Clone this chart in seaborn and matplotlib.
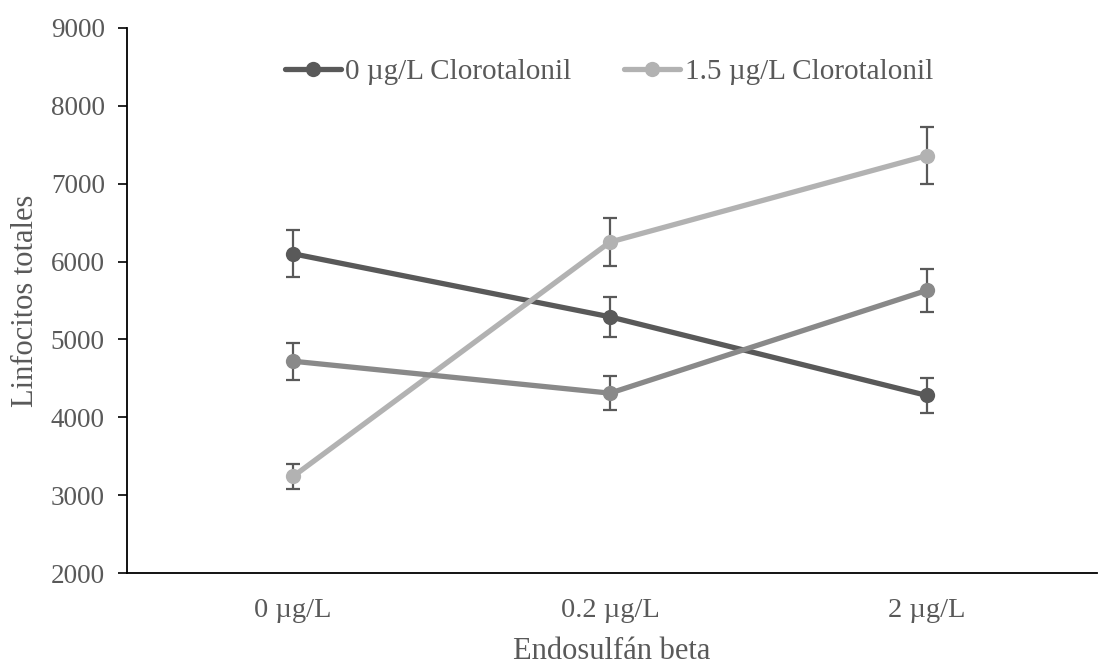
import numpy as np
import pandas as pd
import matplotlib
matplotlib.use("Agg")
import matplotlib.pyplot as plt
import seaborn as sns
from matplotlib.lines import Line2D

categories = ["0 µg/L", "0.2 µg/L", "2 µg/L"]
series_names = ["0 µg/L Clorotalonil", "1.5 µg/L Clorotalonil", "3 µg/L Clorotalonil"]
vals_0 = [6100, 5290, 4280]
err_0 = [300, 260, 220]
vals_15 = [3240, 6250, 7360]
err_15 = [160, 310, 365]
vals_3 = [4720, 4310, 5630]
err_3 = [235, 215, 280]
colors = ["#595959", "#b2b2b2", "#898989"]
in_legend = [True, True, False]

sns.set_theme(style="white")
plt.rcParams['font.family'] = ['Liberation Serif', 'DejaVu Serif']

txt = "#595959"
fig = plt.figure(figsize=(11.09, 6.65), dpi=100)
ax = fig.add_axes([0.1145, 0.1383, 0.8745, 0.8197])

rows = []
for name, vals in zip(series_names, [vals_0, vals_15, vals_3]):
    for i, v in enumerate(vals):
        rows.append({"x": i, "y": v, "serie": name})
df = pd.DataFrame(rows)

sns.lineplot(data=df, x="x", y="y", hue="serie", palette=colors, hue_order=series_names,
             marker="o", markersize=11, markeredgewidth=0, linewidth=3.8, ax=ax, legend=False,
             zorder=3)

for vals, errs in zip([vals_0, vals_15, vals_3], [err_0, err_15, err_3]):
    ax.errorbar(range(len(vals)), vals, yerr=errs, fmt="none", ecolor="#595959",
                elinewidth=1.6, capsize=5, capthick=1.6, zorder=2)

ax.set_xlim(-0.524, 2.536)
ax.set_ylim(2000, 9000)
ax.set_yticks(range(2000, 9001, 1000))
ax.set_xticks(range(len(categories)))
ax.set_xticklabels(categories)
ax.tick_params(axis="y", which="both", left=True, length=6.5, width=1.2, color="black",
               labelsize=19.5, labelcolor=txt, pad=9.5)
ax.tick_params(axis="x", bottom=False, labelsize=20.5, labelcolor=txt, pad=12)
for s in ["top", "right"]:
    ax.spines[s].set_visible(False)
for s in ["left", "bottom"]:
    ax.spines[s].set_color("black")
    ax.spines[s].set_linewidth(1.3)

ax.set_xlabel("Endosulfán beta", fontsize=22, color=txt, labelpad=10)
ax.set_ylabel("Linfocitos totales", fontsize=22, color=txt, labelpad=8)

handles = []
labels = []
for name, c, show in zip(series_names, colors, in_legend):
    if show:
        handles.append(Line2D([0], [0], color=c, lw=3.8, marker="o", markersize=11, markeredgewidth=0))
        labels.append(name)
leg = ax.legend(handles, labels, loc="center", bbox_to_anchor=(0.497, 0.92), ncol=2,
                frameon=False, fontsize=21, handlelength=1.9, handletextpad=0.17,
                columnspacing=1.8, labelcolor=txt)

fig.savefig("out.png", dpi=100)
